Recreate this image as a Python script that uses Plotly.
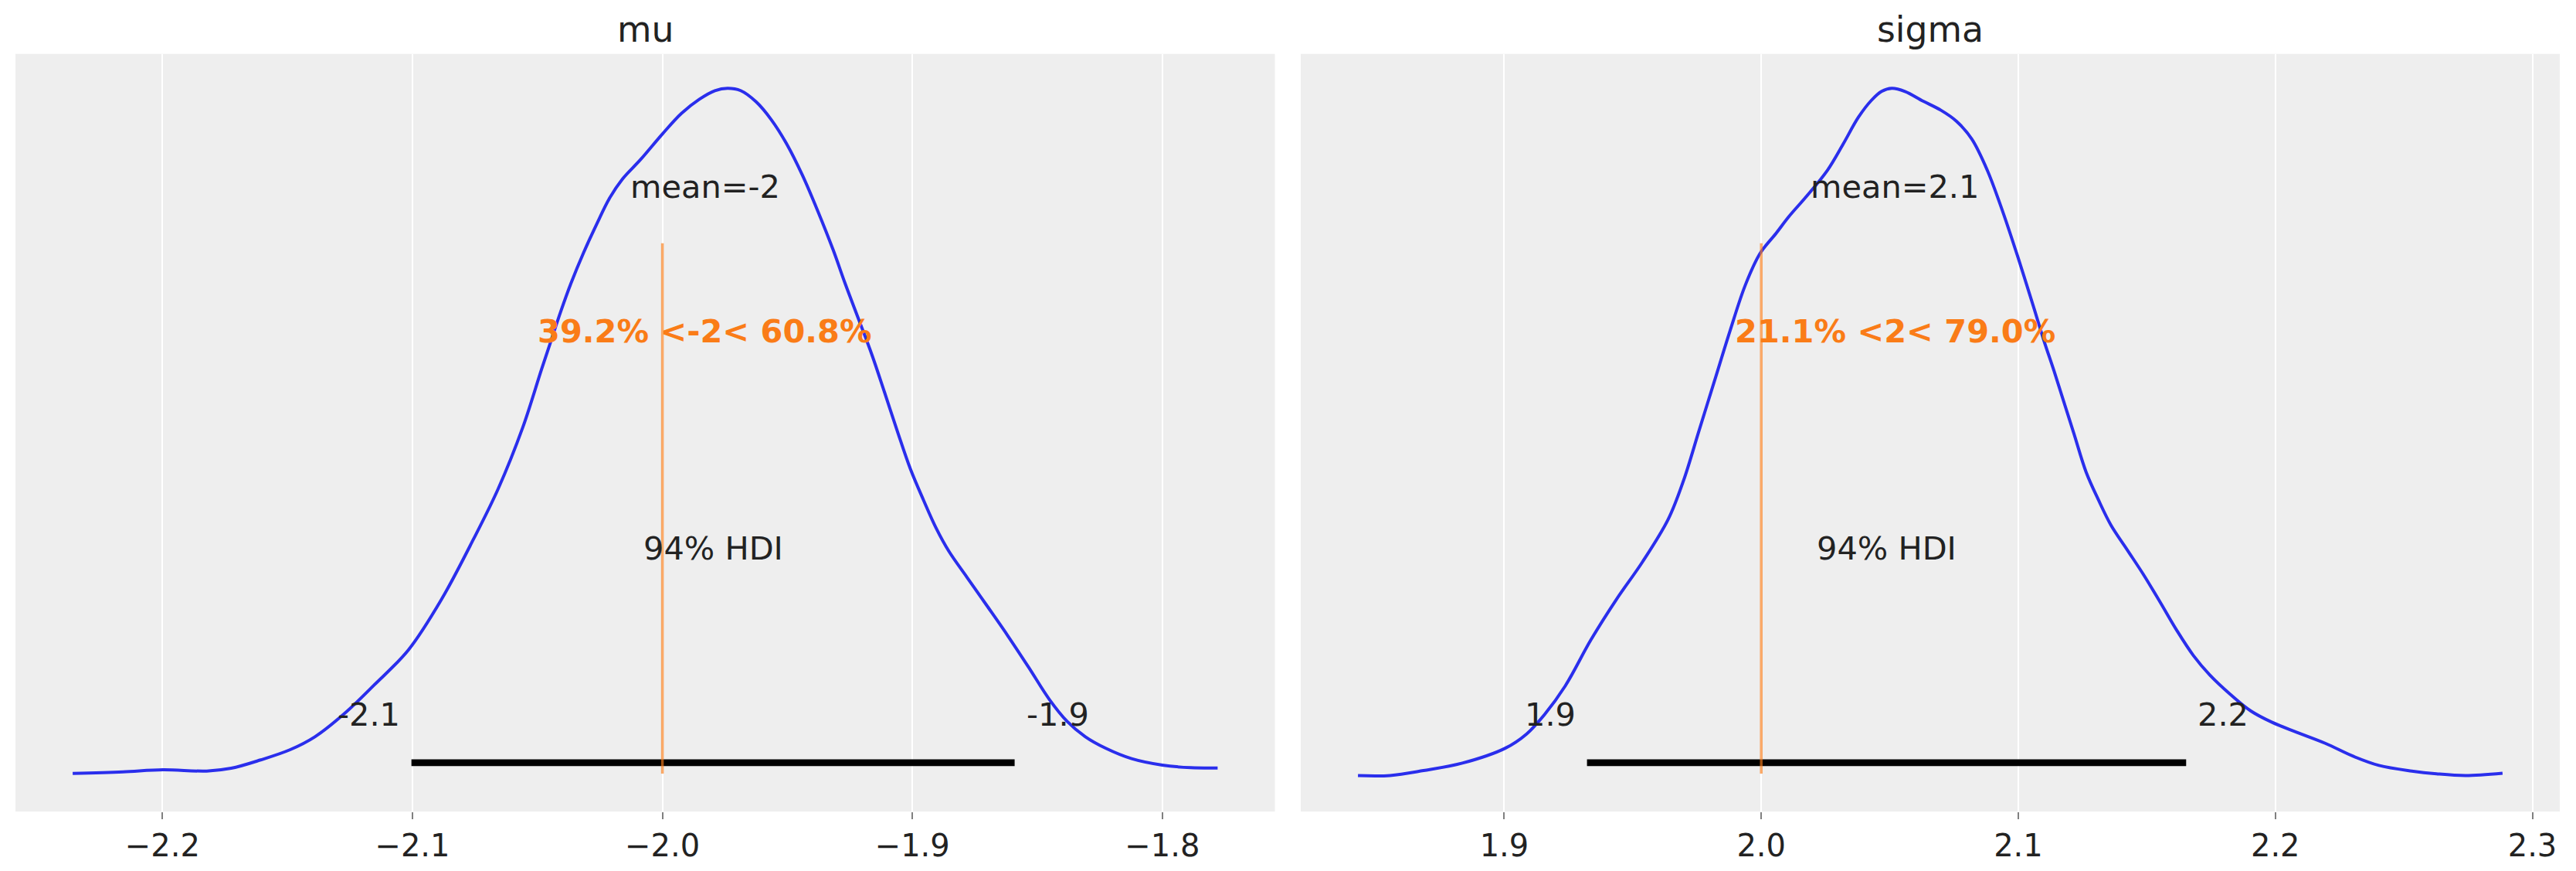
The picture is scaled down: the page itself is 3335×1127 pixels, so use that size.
import plotly.graph_objects as go

# ---------------- data ----------------
titles = ["mu", "sigma"]

mu_x = [-2.2359, -2.2158, -2.1998, -2.1823, -2.1725, -2.1607, -2.1489, -2.1390,
        -2.1272, -2.1154, -2.1016, -2.0885, -2.0755, -2.0657, -2.0559, -2.0484,
        -2.0448, -2.0407, -2.0366, -2.0315, -2.0263, -2.0212, -2.0160, -2.0088,
        -2.0000, -1.9924, -1.9852, -1.9790, -1.9739, -1.9687, -1.9625, -1.9564,
        -1.9502, -1.9440, -1.9378, -1.9317, -1.9270, -1.9214, -1.9162, -1.9111,
        -1.9060, -1.9008, -1.8956, -1.8905, -1.8854, -1.8782, -1.8699, -1.8617,
        -1.8535, -1.8452, -1.8381, -1.8308, -1.8226, -1.8123, -1.8000, -1.7887,
        -1.7779]
mu_density = [0.034, 0.048, 0.066, 0.055, 0.080, 0.155, 0.247, 0.363,
              0.572, 0.827, 1.145, 1.595, 2.145, 2.595, 3.145, 3.667,
              3.911, 4.189, 4.444, 4.722, 4.977, 5.209, 5.383, 5.557,
              5.789, 5.974, 6.102, 6.179, 6.200, 6.179, 6.078, 5.916,
              5.696, 5.418, 5.093, 4.746, 4.449, 4.115, 3.802, 3.461,
              3.113, 2.774, 2.496, 2.241, 2.033, 1.800, 1.534, 1.268,
              0.989, 0.699, 0.502, 0.363, 0.259, 0.166, 0.108, 0.085,
              0.082]

sigma_x = [1.8431, 1.8556, 1.8686, 1.8837, 1.9004, 1.9087, 1.9157, 1.9237,
           1.9337, 1.9437, 1.9538, 1.9638, 1.9698, 1.9758, 1.9818, 1.9878,
           1.9938, 1.9996, 2.0058, 2.0108, 2.0178, 2.0258, 2.0318, 2.0378,
           2.0428, 2.0468, 2.0508, 2.0559, 2.0629, 2.0699, 2.0759, 2.0819,
           2.0879, 2.0939, 2.0999, 2.1059, 2.1099, 2.1139, 2.1168, 2.1216,
           2.1264, 2.1312, 2.1360, 2.1424, 2.1488, 2.1553, 2.1617, 2.1681,
           2.1745, 2.1825, 2.1905, 2.1986, 2.2082, 2.2194, 2.2306, 2.2403,
           2.2531, 2.2627, 2.2740, 2.2884]
sigma_density = [0.014, 0.014, 0.057, 0.122, 0.252, 0.376, 0.546, 0.793,
                 1.195, 1.550, 1.875, 2.246, 2.586, 3.019, 3.451, 3.884,
                 4.286, 4.564, 4.738, 4.884, 5.064, 5.288, 5.512, 5.748,
                 5.894, 5.973, 6.000, 5.973, 5.889, 5.809, 5.714, 5.558,
                 5.288, 4.929, 4.526, 4.099, 3.807, 3.538, 3.334, 2.995,
                 2.656, 2.414, 2.197, 1.979, 1.761, 1.520, 1.277, 1.060,
                 0.890, 0.721, 0.576, 0.479, 0.392, 0.295, 0.179, 0.102,
                 0.053, 0.029, 0.014, 0.034]

means = [-1.983, 2.052]
mean_labels = ["mean=-2", "mean=2.1"]
ref_vals = [-2.0, 2.0]
ref_labels = ["39.2% <-2< 60.8%", "21.1% <2< 79.0%"]
hdi_low = [-2.1004, 1.9322]
hdi_high = [-1.8591, 2.1653]
hdi_low_labels = ["-2.1", "1.9"]
hdi_high_labels = ["-1.9", "2.2"]
hdi_label = "94% HDI"

mu_tickvals = [-2.2, -2.1, -2.0, -1.9, -1.8]
mu_ticktext = ["\u22122.2", "\u22122.1", "\u22122.0", "\u22121.9", "\u22121.8"]
sigma_tickvals = [1.9, 2.0, 2.1, 2.2, 2.3]
sigma_ticktext = ["1.9", "2.0", "2.1", "2.2", "2.3"]

# ---------------- styling ----------------
W, H = 3335, 1127
BLUE = "#2a2eec"
ORANGE = "#fa7c17"
TEXT = "#222222"
FONT = "DejaVu Sans"
TICK_SIZE = 40
TEXT_SIZE = 41.5
TITLE_SIZE = 45.7

x_domains = [[20 / W, 1650.5 / W], [1684 / W, 3314 / W]]
y_domain = [(H - 1050.1) / H, (H - 69.7) / H]

panels = [
    (mu_x, mu_density, mu_tickvals, mu_ticktext),
    (sigma_x, sigma_density, sigma_tickvals, sigma_ticktext),
]

fig = go.Figure()
annotations = []
shapes = []
layout_axes = {}


def text_ann(xref, yref, x, y, text, size, color=TEXT, bold=False,
             xanchor="center", xshift=0):
    return dict(
        xref=xref, yref=yref, x=x, y=y, text=f"<b>{text}</b>" if bold else text,
        showarrow=False, xanchor=xanchor, yanchor="bottom",
        xshift=xshift, yshift=-(0.236 * size + 1),
        font=dict(family=FONT, size=size, color=color),
    )


for i, (xs, dens, tv, tt) in enumerate(panels):
    sfx = "" if i == 0 else str(i + 1)
    xa, ya = "x" + sfx, "y" + sfx
    P = max(dens)
    span = max(xs) - min(xs)
    xr = [min(xs) - 0.05 * span, max(xs) + 0.05 * span]
    yr = [-0.05 * P, 1.05 * P]
    top = yr[1]

    fig.add_trace(go.Scatter(
        x=xs, y=dens, mode="lines", xaxis=xa, yaxis=ya,
        line=dict(color=BLUE, width=4, shape="spline", smoothing=1.0),
        hoverinfo="skip", showlegend=False))

    # HDI bar
    fig.add_trace(go.Scatter(
        x=[hdi_low[i], hdi_high[i]], y=[top * 0.02, top * 0.02], mode="lines",
        xaxis=xa, yaxis=ya, line=dict(color="black", width=8.7),
        hoverinfo="skip", showlegend=False))

    # reference line
    shapes.append(dict(
        type="line", xref=xa, yref=ya + " domain", x0=ref_vals[i], x1=ref_vals[i],
        y0=0.05, y1=0.75, line=dict(color="rgba(250,124,23,0.65)", width=3.5)))

    annotations.append(text_ann(xa, ya, means[i], top * 0.8, mean_labels[i], TEXT_SIZE))
    annotations.append(text_ann(xa, ya, means[i], top * 0.6, ref_labels[i], TEXT_SIZE,
                                color=ORANGE, bold=True))
    annotations.append(text_ann(xa, ya, (hdi_low[i] + hdi_high[i]) / 2, top * 0.3,
                                hdi_label, TEXT_SIZE))
    annotations.append(text_ann(xa, ya, hdi_low[i], top * 0.07, hdi_low_labels[i],
                                TEXT_SIZE, xanchor="right", xshift=-13))
    annotations.append(text_ann(xa, ya, hdi_high[i], top * 0.07, hdi_high_labels[i],
                                TEXT_SIZE, xanchor="left", xshift=13))

    # title
    annotations.append(dict(
        xref="paper", yref="paper", x=sum(x_domains[i]) / 2, y=1 - 55 / H,
        text=titles[i], showarrow=False, xanchor="center", yanchor="bottom",
        yshift=-(0.236 * TITLE_SIZE + 1),
        font=dict(family=FONT, size=TITLE_SIZE, color=TEXT)))

    layout_axes["xaxis" + sfx] = dict(
        domain=x_domains[i], range=xr, anchor=ya,
        tickvals=tv, ticktext=tt, ticks="outside", ticklen=9, tickwidth=2,
        tickcolor="#808080", tickfont=dict(family=FONT, size=TICK_SIZE, color=TEXT),
        showgrid=True, gridcolor="white", gridwidth=2.3, zeroline=False,
        showline=False, automargin=False, fixedrange=True)
    layout_axes["yaxis" + sfx] = dict(
        domain=y_domain, range=yr, anchor=xa, showticklabels=False, ticks="",
        showgrid=False, zeroline=False, showline=False, automargin=False,
        fixedrange=True)

fig.update_layout(
    width=W, height=H,
    margin=dict(l=0, r=0, t=0, b=0),
    paper_bgcolor="white", plot_bgcolor="#eeeeee",
    font=dict(family=FONT, color=TEXT),
    annotations=annotations, shapes=shapes,
    showlegend=False,
    **layout_axes,
)

fig.write_html("out.html")
